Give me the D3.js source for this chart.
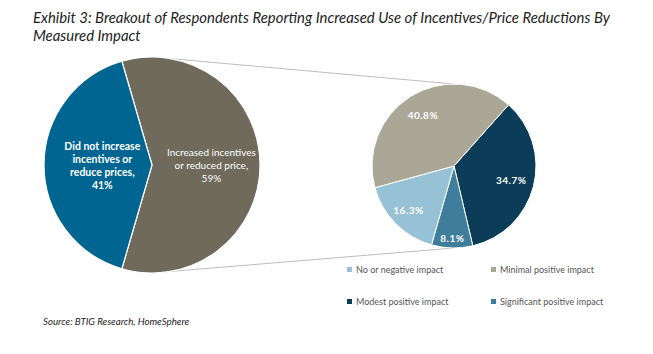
<!DOCTYPE html>
<html>
<head>
<meta charset="utf-8">
<script src="https://cdn.jsdelivr.net/npm/d3@7"></script>
<style>
  body { margin: 0; background: #fff; }
  svg text { font-family: Lato, "Open Sans", sans-serif; }
</style>
</head>
<body>
<svg id="chart" width="653" height="354"></svg>
<script>
// main split
const mainLabels = ['Increased incentives or reduced price, 59%', 'Did not increase incentives or reduce prices, 41%']
const mainValues = [59, 41]
const mainColors = ['#6f6a5c', '#006591']

// breakdown of the "increased" slice, clockwise order as drawn
const impactLabels = ['Modest positive impact', 'Significant positive impact', 'No or negative impact', 'Minimal positive impact']
const impactValues = [34.7, 8.1, 16.3, 40.8]
const impactColors = ['#0b3c58', '#3e7e9a', '#97c2d5', '#aba797']

// legend order
const legendOrder = ['No or negative impact', 'Minimal positive impact', 'Modest positive impact', 'Significant positive impact']

const svg = d3.select('#chart')
const deg = Math.PI / 180

// title + source
const title = svg.append('g').attr('fill', '#222').style('font-style', 'italic').style('font-size', '14.9px')
title.append('text').attr('x', 33).attr('y', 23).text('Exhibit 3: Breakout of Respondents Reporting Increased Use of Incentives/Price Reductions By')
title.append('text').attr('x', 33).attr('y', 41).text('Measured Impact')

svg.append('text').attr('x', 43).attr('y', 325)
    .style('font-style', 'italic').style('font-size', '9.7px').attr('fill', '#222')
    .text('Source: BTIG Research, HomeSphere')

// connector lines between the two pies
const left = {cx: 152, cy: 165, r: 108}
const right = {cx: 454, cy: 166, r: 82}

svg.append('line')
    .attr('x1', left.cx).attr('y1', left.cy - left.r)
    .attr('x2', right.cx).attr('y2', right.cy - right.r)
    .attr('stroke', '#bdbdbd').attr('stroke-width', 1)
svg.append('line')
    .attr('x1', left.cx).attr('y1', left.cy + left.r)
    .attr('x2', right.cx).attr('y2', right.cy + right.r)
    .attr('stroke', '#bdbdbd').attr('stroke-width', 1)

// left pie
const mainStart = -16.2 * deg
const mainPie = d3.pie().sort(null).startAngle(mainStart).endAngle(mainStart + 2 * Math.PI)
const mainArc = d3.arc().innerRadius(0).outerRadius(left.r)

const lg = svg.append('g').attr('transform', `translate(${left.cx},${left.cy})`)
const mainData = mainPie(mainValues)

lg.selectAll('path')
    .data(mainData)
    .join('path')
    .attr('d', mainArc)
    .attr('fill', (d, i) => mainColors[i])
    .attr('stroke', '#fff')
    .attr('stroke-width', 1.2)

// label lines for the left pie
const mainLines = [
    ['Increased incentives', 'or reduced price,', '59%'],
    ['Did not increase', 'incentives or', 'reduce prices,', '41%']
]
const mainLabelR = [0.55, 0.46]

mainData.forEach((d, i) => {
    const a = (d.startAngle + d.endAngle) / 2
    const r = left.r * mainLabelR[i]
    const x = Math.sin(a) * r
    const y = -Math.cos(a) * r
    const lines = mainLines[i]
    const t = lg.append('text')
        .attr('text-anchor', 'middle')
        .attr('fill', '#fff')
        .style('font-size', i == 1 ? '10.5px' : '10px')
        .style('font-weight', i == 1 ? 'bold' : 'normal')
    lines.forEach((s, j) => {
        t.append('tspan')
            .attr('x', x)
            .attr('y', y + (j - (lines.length - 1) / 2) * 13 + 4)
            .text(s)
    })
})

// right pie
const impStart = 41.7 * deg
const impPie = d3.pie().sort(null).startAngle(impStart).endAngle(impStart + 2 * Math.PI)
const impArc = d3.arc().innerRadius(0).outerRadius(right.r)

const rg = svg.append('g').attr('transform', `translate(${right.cx},${right.cy})`)
const impData = impPie(impactValues)

rg.selectAll('path')
    .data(impData)
    .join('path')
    .attr('d', impArc)
    .attr('fill', (d, i) => impactColors[i])
    .attr('stroke', '#fff')
    .attr('stroke-width', 1)

const impLabelR = [0.72, 0.88, 0.78, 0.72]
rg.selectAll('text')
    .data(impData)
    .join('text')
    .attr('x', (d, i) => Math.sin((d.startAngle + d.endAngle) / 2) * right.r * impLabelR[i])
    .attr('y', (d, i) => -Math.cos((d.startAngle + d.endAngle) / 2) * right.r * impLabelR[i] + 3.5)
    .attr('text-anchor', 'middle')
    .attr('fill', '#fff')
    .style('font-size', '10px')
    .style('font-weight', 'bold')
    .style('letter-spacing', '0.5px')
    .text(d => d3.format('.1f')(d.data) + '%')

// legend
const legend = svg.append('g')
legendOrder.forEach((name, i) => {
    const col = i % 2, row = Math.floor(i / 2)
    const x = 347 + col * 144
    const y = 270 + row * 32
    const c = impactColors[impactLabels.indexOf(name)]
    legend.append('rect').attr('x', x).attr('y', y - 3).attr('width', 5).attr('height', 5).attr('fill', c)
    legend.append('text').attr('x', x + 9).attr('y', y + 2.5)
        .style('font-size', '9px').attr('fill', '#555').text(name)
})
</script>
</body>
</html>
